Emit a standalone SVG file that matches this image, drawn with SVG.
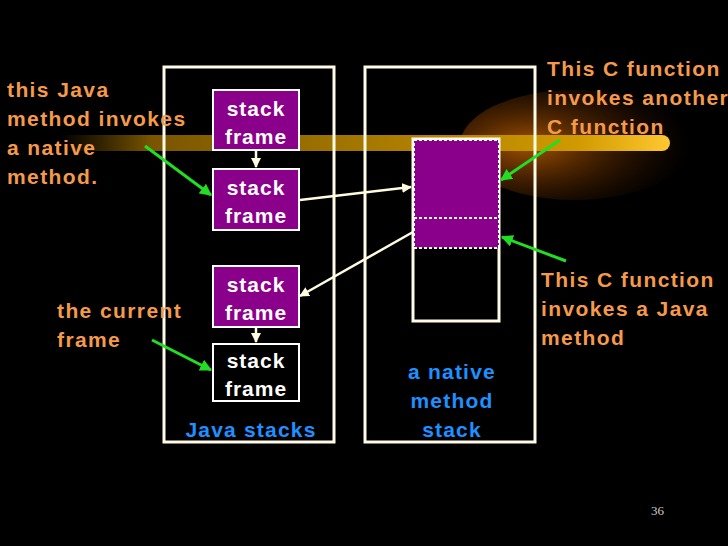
<svg xmlns="http://www.w3.org/2000/svg" width="728" height="546" viewBox="0 0 728 546">
<defs>
<style>
.lbl{font-family:"Liberation Sans",Arial,sans-serif;font-weight:bold;font-size:21px;fill:#f59a4a;letter-spacing:1.4px}
.blue{font-family:"Liberation Sans",Arial,sans-serif;font-weight:bold;font-size:21px;fill:#1e90ff;text-anchor:middle;letter-spacing:1.2px}
.sf{fill:#8b008b;stroke:#fff;stroke-width:2}
.sft{font-family:"Liberation Sans",Arial,sans-serif;font-weight:bold;font-size:21px;fill:#fff;text-anchor:middle;letter-spacing:1px}
.box{fill:none;stroke:#fffbe6;stroke-width:3}
.wa{stroke:#fffbe0;stroke-width:2.5;fill:none;marker-end:url(#wh)}
.ga{stroke:#22dd22;stroke-width:3;fill:none;marker-end:url(#gh)}
</style>
<marker id="wh" viewBox="0 0 10 10" refX="9" refY="5" markerWidth="4" markerHeight="4" orient="auto"><path d="M0,0L10,5L0,10z" fill="#fffbe0"/></marker>
<marker id="gh" viewBox="0 0 10 10" refX="9" refY="5" markerWidth="4" markerHeight="4" orient="auto"><path d="M0,0L10,5L0,10z" fill="#22dd22"/></marker>
<linearGradient id="band" x1="0" x2="1" y1="0" y2="0"><stop offset="0" stop-color="#6b4a00" stop-opacity="0"/><stop offset="0.15" stop-color="#7a5500"/><stop offset="0.85" stop-color="#d09a00"/><stop offset="1" stop-color="#ffc830"/></linearGradient>
<radialGradient id="glow" cx="0.3" cy="0.5" r="0.7"><stop offset="0" stop-color="#c06000" stop-opacity="0.85"/><stop offset="1" stop-color="#502000" stop-opacity="0"/></radialGradient>
</defs>
<rect width="728" height="546" fill="#000"/>
<ellipse cx="575" cy="145" rx="115" ry="55" fill="url(#glow)"/>
<rect x="60" y="135" width="610" height="16" rx="8" fill="url(#band)"/>
<g id="java-stacks"><rect class="box" x="164" y="67" width="170" height="375"/><text class="blue" x="251" y="437">Java stacks</text></g>
<g id="native-stack"><rect class="box" x="365" y="67" width="170" height="375"/>
<rect x="413" y="139" width="86" height="182" fill="none" stroke="#fffbe6" stroke-width="3"/>
<rect x="414" y="140" width="85" height="108" fill="#8b008b" stroke="#fff" stroke-width="2" stroke-dasharray="3,2"/>
<line x1="414" y1="218" x2="499" y2="218" stroke="#fff" stroke-width="2" stroke-dasharray="3,2"/>
<text class="blue" x="452" y="379">a native</text><text class="blue" x="452" y="408">method</text><text class="blue" x="452" y="437">stack</text></g>
<g id="sf1"><rect class="sf" x="213" y="90" width="86" height="60"/><text class="sft" x="256" y="116">stack</text><text class="sft" x="256" y="144">frame</text></g>
<g id="sf2"><rect class="sf" x="213" y="169" width="86" height="61"/><text class="sft" x="256" y="195">stack</text><text class="sft" x="256" y="223">frame</text></g>
<g id="sf3"><rect class="sf" x="213" y="266" width="86" height="61"/><text class="sft" x="256" y="292">stack</text><text class="sft" x="256" y="320">frame</text></g>
<g id="sf4"><rect x="213" y="344" width="86" height="57" fill="#000" stroke="#fff" stroke-width="2"/><text class="sft" x="256" y="368">stack</text><text class="sft" x="256" y="396">frame</text></g>
<g id="labels">
<text class="lbl" x="7" y="97">this Java</text><text class="lbl" x="7" y="126">method invokes</text><text class="lbl" x="7" y="155">a native</text><text class="lbl" x="7" y="184">method.</text>
<text class="lbl" x="57" y="318">the current</text><text class="lbl" x="57" y="347">frame</text>
<text class="lbl" x="547" y="76">This C function</text><text class="lbl" x="547" y="105">invokes another</text><text class="lbl" x="547" y="134">C function</text>
<text class="lbl" x="541" y="287">This C function</text><text class="lbl" x="541" y="316">invokes a Java</text><text class="lbl" x="541" y="345">method</text>
<text x="651" y="515" font-family="Liberation Serif,serif" font-size="13" fill="#ccc">36</text>
</g>
<g id="connectors">
<line class="wa" x1="256" y1="151" x2="256" y2="167"/>
<line class="wa" x1="256" y1="328" x2="256" y2="342"/>
<line class="wa" x1="300" y1="200" x2="411" y2="187"/>
<line class="wa" x1="413" y1="232" x2="300" y2="296"/>
<line class="ga" x1="145" y1="146" x2="211" y2="195"/>
<line class="ga" x1="152" y1="340" x2="211" y2="370"/>
<line class="ga" x1="560" y1="140" x2="501" y2="180"/>
<line class="ga" x1="566" y1="261" x2="502" y2="237"/>
</g>
</svg>
